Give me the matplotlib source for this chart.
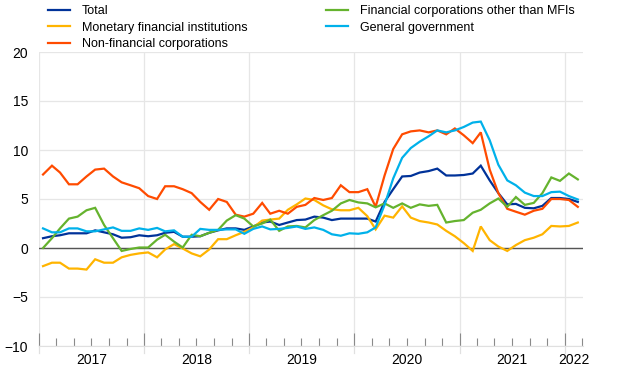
import matplotlib
matplotlib.use("Agg")
import matplotlib.pyplot as plt
import matplotlib.dates as mdates
import matplotlib.transforms as mtransforms
import pandas as pd

plt.rcParams['font.family'] = ['Liberation Sans', 'DejaVu Sans']

# --- DATA (annual growth rates, %, monthly Jan 2017 - Feb 2022) ---
MONTHS = pd.date_range("2017-01-01", "2022-02-01", freq="MS") + pd.Timedelta(days=14)

TOTAL = [1.0, 1.2, 1.3, 1.5, 1.5, 1.5, 1.8, 1.6, 1.4, 1.05, 1.1, 1.3, 1.2,
         1.3, 1.55, 1.65, 1.15, 1.15, 1.2, 1.55, 1.8, 2.0, 2.0, 1.85, 2.2,
         2.6, 2.7, 2.35, 2.6, 2.85, 2.9, 3.2, 3.1, 2.85, 3.0, 3.0, 3.0,
         3.0, 2.7, 4.7, 6.0, 7.3, 7.35, 7.7, 7.85, 8.1, 7.4, 7.4, 7.45, 7.6,
         8.4, 6.9, 5.6, 4.45, 4.5, 4.1, 4.05, 4.3, 5.1, 5.1, 5.0, 4.7]

MFI = [-1.85, -1.5, -1.5, -2.1, -2.1, -2.2, -1.15, -1.5, -1.5, -0.95, -0.7, -0.55, -0.45,
       -0.95, -0.15, 0.4, -0.05, -0.55, -0.85, -0.15, 0.9, 0.9, 1.3, 1.65, 2.1,
       2.8, 2.9, 3.0, 3.9, 4.45, 5.05, 4.9, 4.35, 3.95, 3.85, 3.85, 4.1,
       3.25, 1.9, 3.3, 3.1, 4.25, 3.1, 2.75, 2.6, 2.4, 1.75, 1.2, 0.5, -0.3,
       2.2, 0.8, 0.15, -0.3, 0.3, 0.8, 1.05, 1.4, 2.25, 2.2, 2.25, 2.6]

NFC = [7.5, 8.4, 7.7, 6.5, 6.5, 7.3, 8.0, 8.1, 7.3, 6.7, 6.4, 6.1, 5.3,
       5.0, 6.3, 6.3, 6.0, 5.6, 4.7, 3.9, 5.0, 4.7, 3.4, 3.2, 3.5,
       4.6, 3.5, 3.8, 3.5, 4.2, 4.4, 5.1, 4.9, 5.1, 6.4, 5.7, 5.7,
       6.0, 4.2, 7.4, 10.1, 11.6, 11.9, 12.0, 11.8, 12.0, 11.6, 12.2, 11.5, 10.7,
       11.8, 8.0, 5.6, 4.0, 3.7, 3.4, 3.8, 4.0, 5.0, 5.0, 4.9, 4.2]

OFI = [0.0, 1.0, 2.0, 3.0, 3.2, 3.85, 4.1, 2.35, 1.0, -0.3, -0.1, 0.05, 0.05,
       0.85, 1.35, 0.65, 0.05, 1.35, 1.2, 1.55, 1.85, 2.8, 3.35, 3.0, 2.2,
       2.5, 2.9, 1.75, 2.2, 2.25, 2.1, 2.85, 3.35, 3.8, 4.55, 4.9, 4.65,
       4.55, 4.15, 4.55, 4.1, 4.55, 4.1, 4.45, 4.3, 4.4, 2.6, 2.75, 2.85, 3.6,
       3.9, 4.55, 5.05, 4.2, 5.2, 4.4, 4.6, 5.6, 7.2, 6.85, 7.6, 7.0]

GOV = [2.0, 1.6, 1.6, 2.0, 2.0, 1.7, 1.7, 1.9, 2.1, 1.75, 1.75, 2.0, 1.85,
       2.05, 1.7, 1.8, 1.15, 1.15, 1.95, 1.85, 1.85, 1.9, 1.9, 1.45, 1.95,
       2.2, 1.9, 1.95, 2.05, 2.2, 1.95, 2.1, 1.85, 1.4, 1.25, 1.5, 1.45,
       1.6, 2.1, 4.4, 7.1, 9.2, 10.2, 10.85, 11.4, 12.0, 11.8, 12.0, 12.35, 12.8,
       12.9, 11.0, 8.5, 6.9, 6.4, 5.65, 5.3, 5.3, 5.7, 5.75, 5.3, 4.95]

SERIES = [
    ("Total", TOTAL, "#003299"),
    ("Monetary financial institutions", MFI, "#FFB400"),
    ("Non-financial corporations", NFC, "#FF4B00"),
    ("Financial corporations other than MFIs", OFI, "#65B32E"),
    ("General government", GOV, "#00B1EA"),
]
YEARS = [2017, 2018, 2019, 2020, 2021, 2022]

# --- PLOT ---
fig = plt.figure(figsize=(6.2, 3.87), dpi=100)
ax = fig.add_axes([39 / 620, 1 - 346 / 387, 544 / 620, 294 / 387])

for label, vals, col in SERIES:
    ax.plot(MONTHS, vals, color=col, lw=1.6, label=label, solid_joinstyle='miter')

x0 = mdates.date2num(pd.Timestamp("2017-01-01"))
x1 = mdates.date2num(pd.Timestamp("2022-03-05"))
ax.set_xlim(x0, x1)
ax.set_ylim(-10, 20)
ax.set_yticks(range(-10, 21, 5))
ax.axhline(0, color="#555555", lw=1.0, zorder=1.5)

# grid & spines
ax.grid(axis='y', color="#e6e6e6", lw=0.9)
ax.xaxis.set_major_locator(mdates.YearLocator())
ax.xaxis.set_minor_locator(mdates.MonthLocator(bymonth=[3, 5, 7, 9, 11]))
ax.grid(axis='x', which='major', color="#e6e6e6", lw=0.9)
ax.set_axisbelow(True)
for s in ax.spines.values():
    s.set_visible(False)
ax.spines['bottom'].set_visible(True)
ax.spines['bottom'].set_color("#e0e0e0")

ax.tick_params(axis='x', which='major', direction='in', length=9.5, width=0.8,
               color="#8a8a8a", labelbottom=False)
ax.tick_params(axis='x', which='minor', direction='in', length=6, width=0.8,
               color="#8a8a8a")
ax.tick_params(axis='y', length=0, pad=8, labelsize=10)

# grid stubs below the axis
trans = mtransforms.blended_transform_factory(ax.transData, ax.transAxes)
for yr in YEARS:
    xd = mdates.date2num(pd.Timestamp(f"{yr}-01-01"))
    ax.plot([xd, xd], [-0.025, 0], transform=trans, color="#e0e0e0", lw=0.9,
            clip_on=False)

# year labels centred under each year
for yr in YEARS:
    a = mdates.date2num(pd.Timestamp(f"{yr}-01-01"))
    b = min(mdates.date2num(pd.Timestamp(f"{yr + 1}-01-01")), x1)
    ax.text((a + b) / 2, -0.025, str(yr), transform=trans, ha='center', va='top',
            fontsize=10)

# legend above plot
fig.legend(loc='upper left', bbox_to_anchor=(48 / 620, 1 - 5 / 387), ncol=2,
           frameon=False, fontsize=9, handlelength=1.75, handletextpad=0.95,
           columnspacing=6.3, labelspacing=0.38, borderpad=0, borderaxespad=0)

fig.savefig("out.png", dpi=100)
